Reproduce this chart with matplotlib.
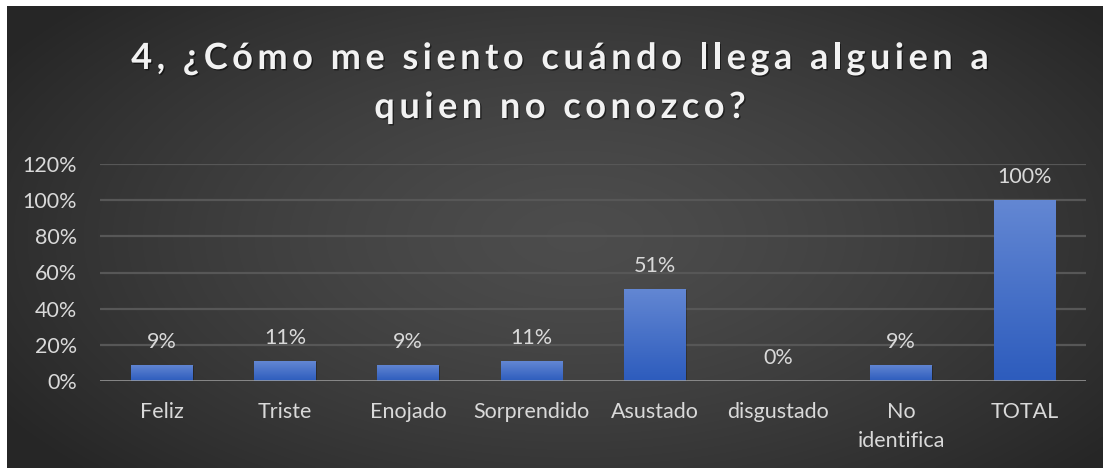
import numpy as np
import matplotlib
matplotlib.use("Agg")
import matplotlib.pyplot as plt
from matplotlib.patches import Rectangle
from matplotlib.font_manager import FontProperties
import matplotlib.patheffects as pe

categories = ["Feliz", "Triste", "Enojado", "Sorprendido", "Asustado",
              "disgustado", "No\nidentifica", "TOTAL"]
values = [0.09, 0.11, 0.09, 0.11, 0.51, 0.00, 0.09, 1.00]
yticks = [0, 0.2, 0.4, 0.6, 0.8, 1.0, 1.2]
title_lines = ["4, ¿Cómo me siento cuándo llega alguien a", "quien no conozco?"]

W, H = 1103, 468
fig = plt.figure(figsize=(W / 100, H / 100), dpi=100)
fig.patch.set_facecolor("white")
plt.rcParams["font.family"] = ["Lato", "DejaVu Sans"]

# dark radial background of the chart area
bg = fig.add_axes([7 / W, 0, 1 - 7 / W, (H - 6) / H])
bg.set_axis_off()
gx, gy = np.meshgrid(np.linspace(0, 1, 400), np.linspace(0, 1, 200))
r = np.sqrt(((gx - 0.52) / 0.62) ** 2 + ((gy - 0.5) / 0.75) ** 2)
r = np.clip(r, 0, 1)
lum = 0.30 - 0.15 * r ** 1.4
bg.imshow(np.dstack([lum, lum, lum]), extent=[0, 1, 0, 1], aspect="auto",
          interpolation="bicubic")
bg.set_xlim(0, 1)
bg.set_ylim(0, 1)

ax = fig.add_axes([100 / W, (H - 381) / H, 986 / W, 217 / H])
ax.patch.set_alpha(0)
x = np.arange(len(categories))

for t in yticks[1:]:
    ax.axhline(t, color="#575757", lw=1.6, zorder=1)
ax.axhline(0, color="#a0a0a0", lw=1.8, zorder=4)

# bars with a vertical blue gradient
grad = np.linspace(0, 1, 100).reshape(-1, 1)
top_c = np.array([0x63, 0x87, 0xd3]) / 255
bot_c = np.array([0x2d, 0x5c, 0xbd]) / 255
img = top_c * (1 - grad[..., None]) + bot_c * grad[..., None]
bw = 0.5
for xi, v in zip(x, values):
    ax.annotate(f"{v:.0%}", (xi, v), xytext=(0, 12), textcoords="offset points",
                ha="center", va="baseline", fontsize=15.5, color="#d9d9d9")
    if v <= 0:
        continue
    shadow = Rectangle((xi - bw / 2 + 0.01, 0), bw, v - 0.005, facecolor="black",
                       alpha=0.25, edgecolor="none", zorder=2)
    ax.add_patch(shadow)
    rect = Rectangle((xi - bw / 2, 0), bw, v, facecolor="none", edgecolor="none", zorder=3)
    ax.add_patch(rect)
    im = ax.imshow(img, extent=[xi - bw / 2, xi + bw / 2, 0, v], aspect="auto",
                   zorder=3, interpolation="bilinear")
    im.set_clip_path(rect)

ax.set_xlim(-0.5, len(categories) - 0.5)
ax.set_ylim(0, 1.2)
ax.set_yticks(yticks)
ax.set_yticklabels([f"{t:.0%}" for t in yticks], fontsize=15.5, color="#d9d9d9")
ax.set_xticks(x)
ax.set_xticklabels(categories, fontsize=15.5, color="#d9d9d9", linespacing=1.55,
                   va="top")
ax.tick_params(axis="y", length=0, pad=16.5)
ax.tick_params(axis="x", length=0, pad=15)
for s in ax.spines.values():
    s.set_visible(False)

# title with wide letter spacing, drawn char by char
renderer = fig.canvas.get_renderer()
tprop = FontProperties(family=["Lato", "DejaVu Sans"], weight="bold", size=26)
track = 4.5
shadow_fx = [pe.withSimplePatchShadow(offset=(1, -1), shadow_rgbFace="black", alpha=0.5)]


def text_w(s):
    if not s:
        return 0.0
    w, _, _ = renderer.get_text_width_height_descent(s, tprop, ismath=False)
    return w


for line, base in zip(title_lines, [69, 118]):
    total = text_w(line) + track * (len(line) - 1)
    x0 = 560 - total / 2
    for i, ch in enumerate(line):
        if ch == " ":
            continue
        px = x0 + text_w(line[:i]) + track * i
        fig.text(px / W, (H - base) / H, ch, fontproperties=tprop, color="#f2f2f2",
                 ha="left", va="baseline", path_effects=shadow_fx)

fig.savefig("out.png", dpi=100, facecolor=fig.get_facecolor())
